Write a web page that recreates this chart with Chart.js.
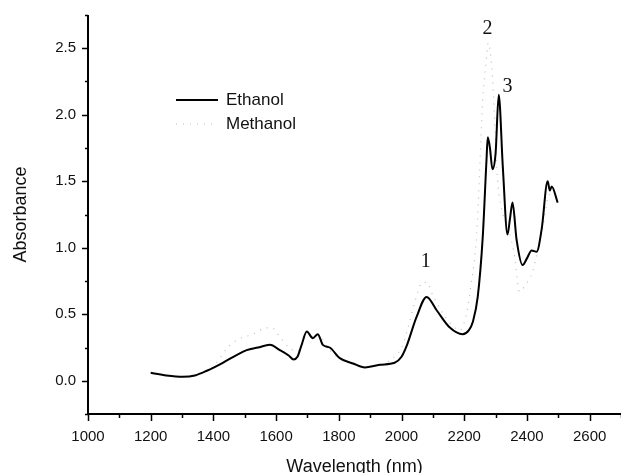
<!DOCTYPE html>
<html>
<head>
<meta charset="utf-8">
<script src="https://cdn.jsdelivr.net/npm/chart.js@4.4.1/dist/chart.umd.min.js"></script>
<style>
  html, body { margin: 0; padding: 0; background: #fff; overflow: hidden; }
  canvas { display: block; }
</style>
</head>
<body>
<canvas id="chart" width="621" height="473"></canvas>
<script>
// Ethanol spectrum (solid)
const ethanolX = [1200,1250,1303,1341,1379,1430,1475,1506,1542,1580,1612,1640,1656,1668,1680,1698,1717,1733,1749,1771,1803,1845,1883,1931,1978,2000,2016,2048,2080,2112,2154,2195,2215,2227,2243,2259,2271,2275,2282,2290,2300,2310,2323,2338,2346,2354,2367,2386,2400,2415,2431,2447,2466,2473,2479,2498];
const ethanolY = [0.06,0.04,0.03,0.04,0.075,0.135,0.195,0.23,0.25,0.27,0.23,0.19,0.16,0.18,0.26,0.37,0.32,0.35,0.27,0.25,0.17,0.13,0.10,0.12,0.135,0.18,0.26,0.48,0.63,0.53,0.40,0.35,0.38,0.44,0.63,1.08,1.66,1.83,1.75,1.59,1.71,2.15,1.61,1.10,1.22,1.34,1.06,0.87,0.92,0.98,0.97,1.14,1.50,1.43,1.46,1.34];

// Methanol spectrum (dotted)
const methanolX = [1200,1250,1303,1350,1400,1446,1478,1526,1558,1586,1605,1637,1665,1685,1700,1717,1735,1760,1800,1845,1883,1931,1973,2000,2016,2042,2067,2080,2100,2131,2160,2185,2205,2221,2240,2249,2259,2268,2277,2290,2306,2319,2340,2361,2376,2395,2418,2450,2472,2490];
const methanolY = [0.06,0.04,0.03,0.05,0.11,0.25,0.31,0.35,0.39,0.40,0.35,0.26,0.22,0.28,0.37,0.33,0.35,0.26,0.17,0.13,0.10,0.12,0.17,0.25,0.36,0.59,0.74,0.74,0.64,0.51,0.42,0.38,0.48,0.71,1.11,1.57,2.11,2.36,2.54,2.28,1.52,1.29,1.15,0.93,0.67,0.72,0.82,1.15,1.40,1.38];

// peak labels
const peakLabels = ['1', '2', '3'];
const peakX = [2077, 2274, 2338];
const peakY = [0.895, 2.65, 2.21];

const toPoints = (xs, ys) => xs.map((x, i) => ({ x: x, y: ys[i] }));

// outward ticks, major + minor
const axisTicks = {
  id: 'axisTicks',
  afterDraw(chart) {
    const ctx = chart.ctx;
    const xs = chart.scales.x, ys = chart.scales.y;
    const area = chart.chartArea;
    ctx.save();
    ctx.strokeStyle = '#000';
    ctx.lineWidth = 2;
    ctx.beginPath();
    ctx.moveTo(area.left, area.top);
    ctx.lineTo(area.left, area.bottom);
    ctx.lineTo(area.right, area.bottom);
    ctx.stroke();
    ctx.lineWidth = 1.5;
    for (let v = -0.25; v <= 2.75 + 1e-9; v += 0.25) {
      const py = Math.round(ys.getPixelForValue(v)) + 0.5;
      const major = Math.abs(v * 2 - Math.round(v * 2)) < 1e-6;
      ctx.beginPath();
      ctx.moveTo(area.left, py);
      ctx.lineTo(area.left - (major ? 6 : 3), py);
      ctx.stroke();
    }
    for (let v = 1000; v <= 2700; v += 100) {
      const px = Math.round(xs.getPixelForValue(v)) + 0.5;
      const major = v % 200 === 0;
      ctx.beginPath();
      ctx.moveTo(px, area.bottom);
      ctx.lineTo(px, area.bottom + (major ? 7 : 4));
      ctx.stroke();
    }
    ctx.restore();
  }
};

// legend and peak numbers
const annotations = {
  id: 'annotations',
  afterDatasetsDraw(chart) {
    const ctx = chart.ctx;
    const xs = chart.scales.x, ys = chart.scales.y;
    ctx.save();
    ctx.font = '20px "Liberation Serif", "DejaVu Serif", serif';
    ctx.fillStyle = '#111';
    ctx.textAlign = 'center';
    ctx.textBaseline = 'middle';
    peakLabels.forEach((t, i) => {
      ctx.fillText(t, xs.getPixelForValue(peakX[i]), ys.getPixelForValue(peakY[i]));
    });

    const ds = chart.data.datasets;
    ctx.font = '17px "Liberation Sans", Arial, sans-serif';
    ctx.textAlign = 'left';
    ds.forEach((d, i) => {
      const y = 100 + i * 24;
      ctx.strokeStyle = d.borderColor;
      ctx.lineWidth = d.borderWidth;
      ctx.setLineDash(d.borderDash || []);
      ctx.beginPath();
      ctx.moveTo(176, y);
      ctx.lineTo(218, y);
      ctx.stroke();
      ctx.setLineDash([]);
      ctx.fillStyle = '#111';
      ctx.fillText(d.label, 226, y);
    });
    ctx.restore();
  }
};

const ctx = document.getElementById('chart').getContext('2d');
new Chart(ctx, {
  type: 'line',
  data: {
    datasets: [
      {
        label: 'Ethanol',
        data: toPoints(ethanolX, ethanolY),
        borderColor: '#000',
        borderWidth: 2,
        pointRadius: 0,
        cubicInterpolationMode: 'monotone',
        order: 1
      },
      {
        label: 'Methanol',
        data: toPoints(methanolX, methanolY),
        borderColor: '#bdbdbd',
        borderWidth: 1.2,
        borderDash: [1, 6],
        pointRadius: 0,
        cubicInterpolationMode: 'monotone',
        order: 2
      }
    ]
  },
  options: {
    responsive: false,
    animation: false,
    devicePixelRatio: 1,
    layout: { padding: { top: 15, right: 0, left: 0, bottom: 0 } },
    plugins: {
      legend: { display: false },
      tooltip: { enabled: false }
    },
    scales: {
      x: {
        type: 'linear',
        min: 1000,
        max: 2700,
        border: { display: false },
        grid: { display: false, drawTicks: false },
        ticks: {
          stepSize: 100,
          padding: 14,
          color: '#111',
          font: { size: 15, family: '"Liberation Sans", Arial, sans-serif' },
          maxRotation: 0,
          autoSkip: false,
          callback: v => (v % 200 === 0 ? String(v) : '')
        },
        title: {
          display: true,
          text: 'Wavelength (nm)',
          color: '#111',
          font: { size: 18, family: '"Liberation Sans", Arial, sans-serif' },
          padding: { top: 0, bottom: -5 }
        },
        afterFit: s => { s.height = 59; s.paddingLeft = 0; s.paddingRight = 0; }
      },
      y: {
        min: -0.25,
        max: 2.75,
        border: { display: false },
        grid: { display: false, drawTicks: false },
        ticks: {
          stepSize: 0.25,
          padding: 12,
          color: '#111',
          font: { size: 15, family: '"Liberation Sans", Arial, sans-serif' },
          autoSkip: false,
          callback: v => {
            const m = Math.abs(v * 2 - Math.round(v * 2)) < 1e-6;
            return m && v >= 0 && v <= 2.5 ? v.toFixed(1) : '';
          }
        },
        title: {
          display: true,
          text: 'Absorbance',
          color: '#111',
          font: { size: 18, family: '"Liberation Sans", Arial, sans-serif' },
          padding: { top: 10, bottom: 0 }
        },
        afterFit: s => { s.width = 88; s.paddingTop = 0; s.paddingBottom = 0; }
      }
    }
  },
  plugins: [axisTicks, annotations]
});
</script>
</body>
</html>
